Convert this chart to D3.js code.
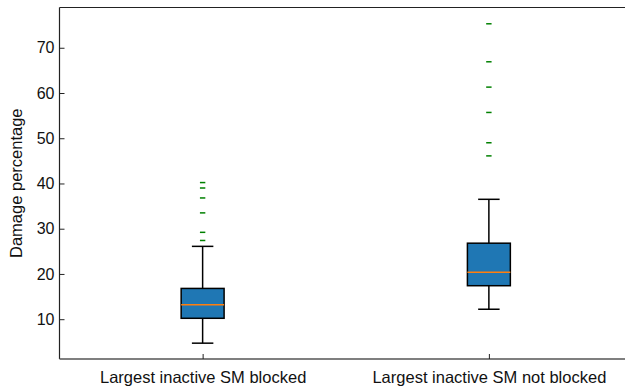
<!DOCTYPE html>
<html>
<head>
<meta charset="utf-8">
<script src="https://cdn.jsdelivr.net/npm/d3@7"></script>
<style>
  html, body { margin: 0; padding: 0; background: #fff; overflow: hidden; }
  svg { display: block; }
</style>
</head>
<body>
<svg id="chart" width="625" height="388"></svg>
<script>
// ---- data ----
const categories = ["Largest inactive SM blocked", "Largest inactive SM not blocked"];
const whiskerLow  = [4.7, 12.2];
const q1          = [10.2, 17.4];
const medians     = [13.2, 20.4];
const q3          = [16.8, 26.8];
const whiskerHigh = [26.1, 36.5];
const fliers = [
  [27.4, 29.2, 33.5, 36.8, 39.0, 40.2],
  [46.1, 49.0, 55.7, 61.3, 66.9, 75.3]
];
const yTicks = [10, 20, 30, 40, 50, 60, 70];
const yLabel = "Damage percentage";

// ---- layout ----
const svg = d3.select("#chart");
const mLeft = 59.5, mTop = 7.5, mBottom = 359, rightFull = 632;
const font = "'Liberation Sans', Arial, Helvetica, sans-serif";

const x = d3.scaleLinear().domain([0.5, 2.5]).range([mLeft, rightFull]);
const y = d3.scaleLinear().domain([1.2, 78.9]).range([mBottom, mTop]);

const boxHalf = 0.075, capHalf = 0.0375;

const g = svg.append("g");

categories.forEach((c, i) => {
  const pos = i + 1;
  const cx = x(pos);
  g.append("line").attr("x1", cx).attr("x2", cx)
    .attr("y1", y(q3[i])).attr("y2", y(whiskerHigh[i]))
    .attr("stroke", "#000").attr("stroke-width", 1.5);
  g.append("line").attr("x1", cx).attr("x2", cx)
    .attr("y1", y(q1[i])).attr("y2", y(whiskerLow[i]))
    .attr("stroke", "#000").attr("stroke-width", 1.5);
  [whiskerHigh[i], whiskerLow[i]].forEach(v => {
    g.append("line").attr("x1", x(pos - capHalf)).attr("x2", x(pos + capHalf))
      .attr("y1", y(v)).attr("y2", y(v))
      .attr("stroke", "#000").attr("stroke-width", 1.5);
  });
  g.append("rect")
    .attr("x", x(pos - boxHalf)).attr("width", x(pos + boxHalf) - x(pos - boxHalf))
    .attr("y", y(q3[i])).attr("height", y(q1[i]) - y(q3[i]))
    .attr("fill", "#1f77b4").attr("stroke", "#000").attr("stroke-width", 1.5);
  g.append("line").attr("x1", x(pos - boxHalf)).attr("x2", x(pos + boxHalf))
    .attr("y1", y(medians[i])).attr("y2", y(medians[i]))
    .attr("stroke", "#ff7f0e").attr("stroke-width", 1.5);
  fliers[i].forEach(v => {
    g.append("line").attr("x1", cx - 2.7).attr("x2", cx + 2.7)
      .attr("y1", y(v)).attr("y2", y(v))
      .attr("stroke", "#008000").attr("stroke-width", 1.5);
  });
});

// spines
svg.append("line").attr("x1", mLeft).attr("x2", 625).attr("y1", mTop).attr("y2", mTop)
  .attr("stroke", "#222").attr("stroke-width", 1.2);
svg.append("line").attr("x1", mLeft).attr("x2", mLeft).attr("y1", mTop).attr("y2", mBottom)
  .attr("stroke", "#222").attr("stroke-width", 1.2);
svg.append("line").attr("x1", mLeft).attr("x2", 625).attr("y1", mBottom).attr("y2", mBottom)
  .attr("stroke", "#555").attr("stroke-width", 1.4);

// y axis (ticks inward)
const yAxis = d3.axisLeft(y).tickValues(yTicks).tickSizeInner(-5).tickSizeOuter(0).tickPadding(5);
const ya = svg.append("g").attr("transform", `translate(${mLeft},0)`).call(yAxis);
ya.select(".domain").remove();
ya.selectAll("line").attr("stroke", "#222");
ya.selectAll("text").attr("font-family", font).attr("font-size", 16).attr("fill", "#111");

// x axis (ticks inward)
const xAxis = d3.axisBottom(x).tickValues([1, 2]).tickFormat((d) => categories[d - 1])
  .tickSizeInner(-5).tickSizeOuter(0).tickPadding(12);
const xa = svg.append("g").attr("transform", `translate(0,${mBottom})`).call(xAxis);
xa.select(".domain").remove();
xa.selectAll("line").attr("stroke", "#222");
xa.selectAll("text").attr("font-family", font).attr("font-size", 16.5).attr("fill", "#111");

// y label
svg.append("text")
  .attr("transform", `translate(22,${(mTop + mBottom) / 2}) rotate(-90)`)
  .attr("text-anchor", "middle")
  .attr("font-family", font).attr("font-size", 16.5).attr("fill", "#111")
  .text(yLabel);
</script>
</body>
</html>
